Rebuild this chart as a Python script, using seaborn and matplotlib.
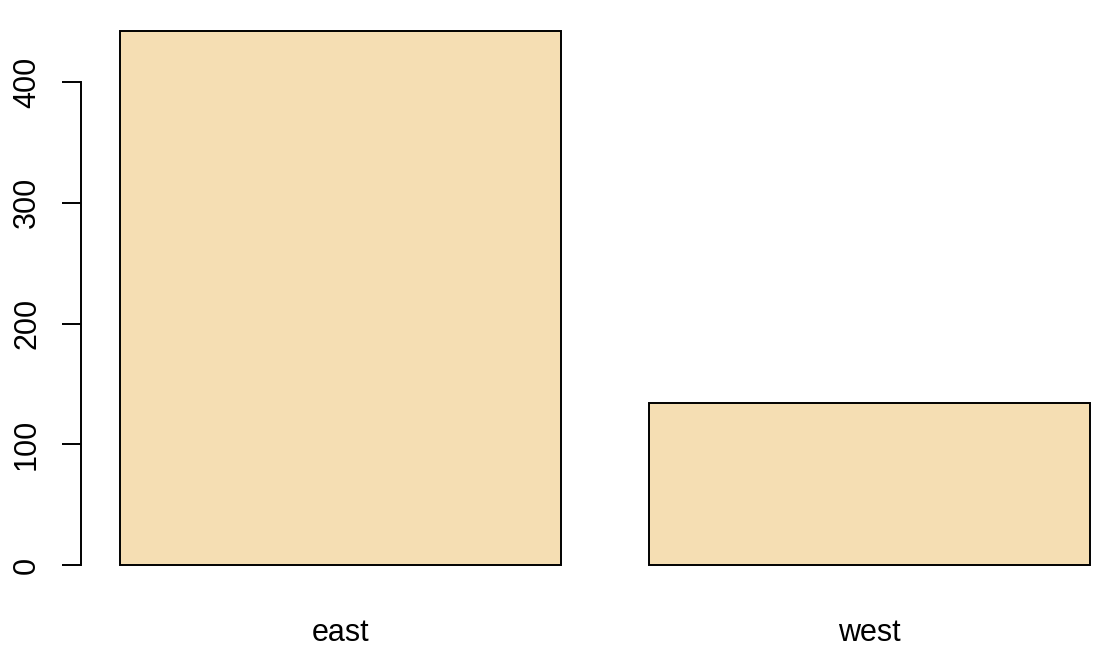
import matplotlib
matplotlib.use("Agg")
import matplotlib.pyplot as plt
import seaborn as sns
import pandas as pd

regions = ["east", "west"]
counts = [442, 134]
yticks = [0, 100, 200, 300, 400]

df = pd.DataFrame({"region": regions, "count": counts})

sns.set_style("white")
plt.rcParams['font.family'] = ['Liberation Sans', 'DejaVu Sans']
plt.rcParams['text.color'] = 'black'
plt.rcParams['xtick.color'] = 'black'
plt.rcParams['ytick.color'] = 'black'

fig = plt.figure(figsize=(11.12, 6.58), dpi=100)
ax = fig.add_axes([81 / 1112, (658 - 586.4) / 658, 1031 / 1112, 576.7 / 658])

sns.barplot(data=df, x="region", y="count", color="#F5DEB3", saturation=1,
            width=1 / 1.2, edgecolor="black", linewidth=1.4, ax=ax)

ax.set_xlim(-0.4905, 1.4584)
ax.set_ylim(-17.7, 459.9)
ax.set_xlabel("")
ax.set_ylabel("")

for s in ["top", "right", "bottom"]:
    ax.spines[s].set_visible(False)
ax.spines["left"].set_bounds(0, 400)
ax.spines["left"].set_linewidth(1.4)
ax.spines["left"].set_color("black")

ax.set_yticks(yticks)
ax.set_yticklabels([str(t) for t in yticks], rotation=90, va="center", fontsize=22)
ax.tick_params(axis="y", length=14, width=1.4, colors="black", pad=14, left=True)
ax.tick_params(axis="x", length=0, labelsize=22, colors="black", pad=23)

fig.savefig("out.png", dpi=100)
